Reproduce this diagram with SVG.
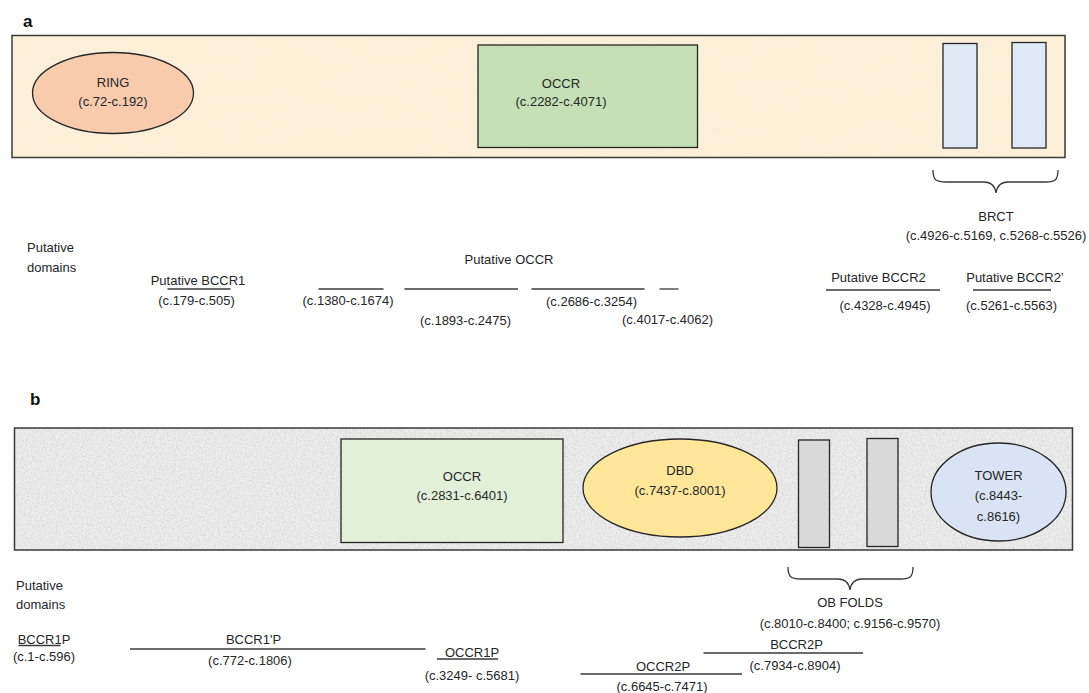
<svg xmlns="http://www.w3.org/2000/svg" width="1089" height="693" viewBox="0 0 1089 693">
<defs>
<style>
text{font-family:"Liberation Sans",Arial,sans-serif;font-size:13px;fill:#262626;text-anchor:middle}
.panel{font-size:17px;font-weight:bold;text-anchor:start;fill:#111}
.lbl{text-anchor:start}
.frame{stroke:#3a3a3a;stroke-width:1.5;fill:none}
.shape{stroke:#262626;stroke-width:1.3}
.ln{stroke:#3a3a3a;stroke-width:1.3;fill:none}
</style>
<filter id="parch" x="0" y="0" width="100%" height="100%">
<feTurbulence type="fractalNoise" baseFrequency="0.012 0.03" numOctaves="3" seed="7"/>
<feColorMatrix type="matrix" values="0 0 0 0 0.96  0 0 0 0 0.85  0 0 0 0 0.68  1.4 0 0 0 -0.55"/>
</filter>
<filter id="granite" x="0" y="0" width="100%" height="100%">
<feTurbulence type="fractalNoise" baseFrequency="0.55" numOctaves="2" seed="3"/>
<feColorMatrix type="matrix" values="0 0 0 0 0.55  0 0 0 0 0.55  0 0 0 0 0.55  1.6 0 0 0 -0.62"/>
</filter>
</defs>
<rect width="1089" height="693" fill="#ffffff"/>

<g id="panel-a">
<text class="panel" x="23" y="27">a</text>
<rect x="12" y="35.5" width="1053" height="122" fill="#fcf0d9"/>
<rect x="12" y="35.5" width="1053" height="122" filter="url(#parch)" opacity="0.6"/>
<rect class="frame" x="12" y="35.5" width="1053" height="122"/>
</g>
<g id="ring">
<ellipse class="shape" cx="113" cy="93" rx="80.5" ry="40.5" fill="#f8cbad"/>
<text x="113" y="87">RING</text>
<text x="113" y="106">(c.72-c.192)</text>
</g>
<g id="occr-a">
<rect class="shape" x="478" y="45" width="219.5" height="102.5" fill="#c5e0b4"/>
<text x="561" y="88">OCCR</text>
<text x="561" y="106">(c.2282-c.4071)</text>
</g>
<g id="brct1"><rect class="shape" x="943" y="43.5" width="34" height="104.5" fill="#deebf7"/></g>
<g id="brct2"><rect class="shape" x="1012" y="42.5" width="34" height="105.5" fill="#deebf7"/></g>
<g id="brct-label">
<text x="996" y="221">BRCT</text>
<text x="996" y="239.5">(c.4926-c.5169, c.5268-c.5526)</text>
</g>
<g id="putative-a">
<text class="lbl" x="27" y="252">Putative</text>
<text class="lbl" x="27" y="271.5">domains</text>
<text x="509" y="263.5">Putative OCCR</text>
</g>
<g id="bccr1">
<text x="198" y="284.5">Putative BCCR1</text>
<text x="196.5" y="305">(c.179-c.505)</text>
</g>
<g id="occr-seg1"><text x="348" y="305">(c.1380-c.1674)</text></g>
<g id="occr-seg2"><text x="465.5" y="325">(c.1893-c.2475)</text></g>
<g id="occr-seg3"><text x="591.5" y="306">(c.2686-c.3254)</text></g>
<g id="occr-seg4"><text x="667.5" y="323.5">(c.4017-c.4062)</text></g>
<g id="bccr2">
<text x="878.5" y="282">Putative BCCR2</text>
<text x="885" y="310">(c.4328-c.4945)</text>
</g>
<g id="bccr2p">
<text x="1015" y="282">Putative BCCR2’</text>
<text x="1011.5" y="310">(c.5261-c.5563)</text>
</g>

<g id="panel-b">
<text class="panel" x="30" y="405">b</text>
<rect x="14.5" y="428" width="1058" height="122" fill="#ededed"/>
<rect x="14.5" y="428" width="1058" height="122" filter="url(#granite)" opacity="0.7"/>
<rect class="frame" x="14.5" y="428" width="1058" height="122"/>
</g>
<g id="occr-b">
<rect class="shape" x="341" y="439" width="222" height="103.5" fill="#e2f0d9"/>
<text x="462" y="481">OCCR</text>
<text x="462" y="499.5">(c.2831-c.6401)</text>
</g>
<g id="dbd">
<ellipse class="shape" cx="680" cy="488" rx="97" ry="49" fill="#ffe699"/>
<text x="680" y="475">DBD</text>
<text x="680" y="495">(c.7437-c.8001)</text>
</g>
<g id="ob1"><rect class="shape" x="798.5" y="440" width="31" height="107.5" fill="#d9d9d9"/></g>
<g id="ob2"><rect class="shape" x="867" y="438.5" width="31" height="108" fill="#d9d9d9"/></g>
<g id="tower">
<ellipse class="shape" cx="998.5" cy="492" rx="67.5" ry="49" fill="#dae3f3"/>
<text x="998.5" y="479.5">TOWER</text>
<text x="998.5" y="500">(c.8443-</text>
<text x="998.5" y="520.5">c.8616)</text>
</g>
<g id="ob-label">
<text x="850" y="607">OB FOLDS</text>
<text x="850" y="627.5">(c.8010-c.8400; c.9156-c.9570)</text>
</g>
<g id="putative-b">
<text class="lbl" x="16" y="589.5">Putative</text>
<text class="lbl" x="16" y="608.5">domains</text>
</g>
<g id="bccr1p">
<text x="44" y="643.5">BCCR1P</text>
<text x="44" y="661">(c.1-c.596)</text>
</g>
<g id="bccr1pp">
<text x="253.5" y="643.5">BCCR1'P</text>
<text x="250" y="664.5">(c.772-c.1806)</text>
</g>
<g id="occr1p">
<text x="472" y="656.5">OCCR1P</text>
<text x="472" y="679.5">(c.3249- c.5681)</text>
</g>
<g id="bccr2p-b">
<text x="796.5" y="648.5">BCCR2P</text>
<text x="795" y="669.5">(c.7934-c.8904)</text>
</g>
<g id="occr2p">
<text x="663" y="670.5">OCCR2P</text>
<text x="662" y="691">(c.6645-c.7471)</text>
</g>

<g id="connectors">
<path class="ln" d="M933,170 C933,180 936,182 946,182 L984,182 C992,182 995,186 996,193 C997,186 1000,182 1008,182 L1046,182 C1055,182 1058,180 1058,170"/>
<path class="ln" d="M788,567 C788,577 791,579 801,579 L838,579 C846,579 849,583 850,590 C851,583 854,579 862,579 L901,579 C910,579 913,577 913,567"/>
<line class="ln" x1="167.5" y1="289" x2="230.5" y2="289"/>
<line class="ln" x1="318.5" y1="289" x2="383.5" y2="289"/>
<line class="ln" x1="404.5" y1="289" x2="518" y2="289"/>
<line class="ln" x1="531.5" y1="289" x2="644.5" y2="289"/>
<line class="ln" x1="659.5" y1="289" x2="678.5" y2="289"/>
<line class="ln" x1="826" y1="290" x2="940" y2="290"/>
<line class="ln" x1="973" y1="290" x2="1051" y2="290"/>
<line class="ln" x1="18.5" y1="645.5" x2="60.5" y2="645.5"/>
<line class="ln" x1="130" y1="649" x2="425.5" y2="649"/>
<line class="ln" x1="437" y1="659" x2="498" y2="659"/>
<line class="ln" x1="703.5" y1="653" x2="863" y2="653"/>
<line class="ln" x1="580.5" y1="674" x2="742" y2="674"/>
</g>
</svg>
